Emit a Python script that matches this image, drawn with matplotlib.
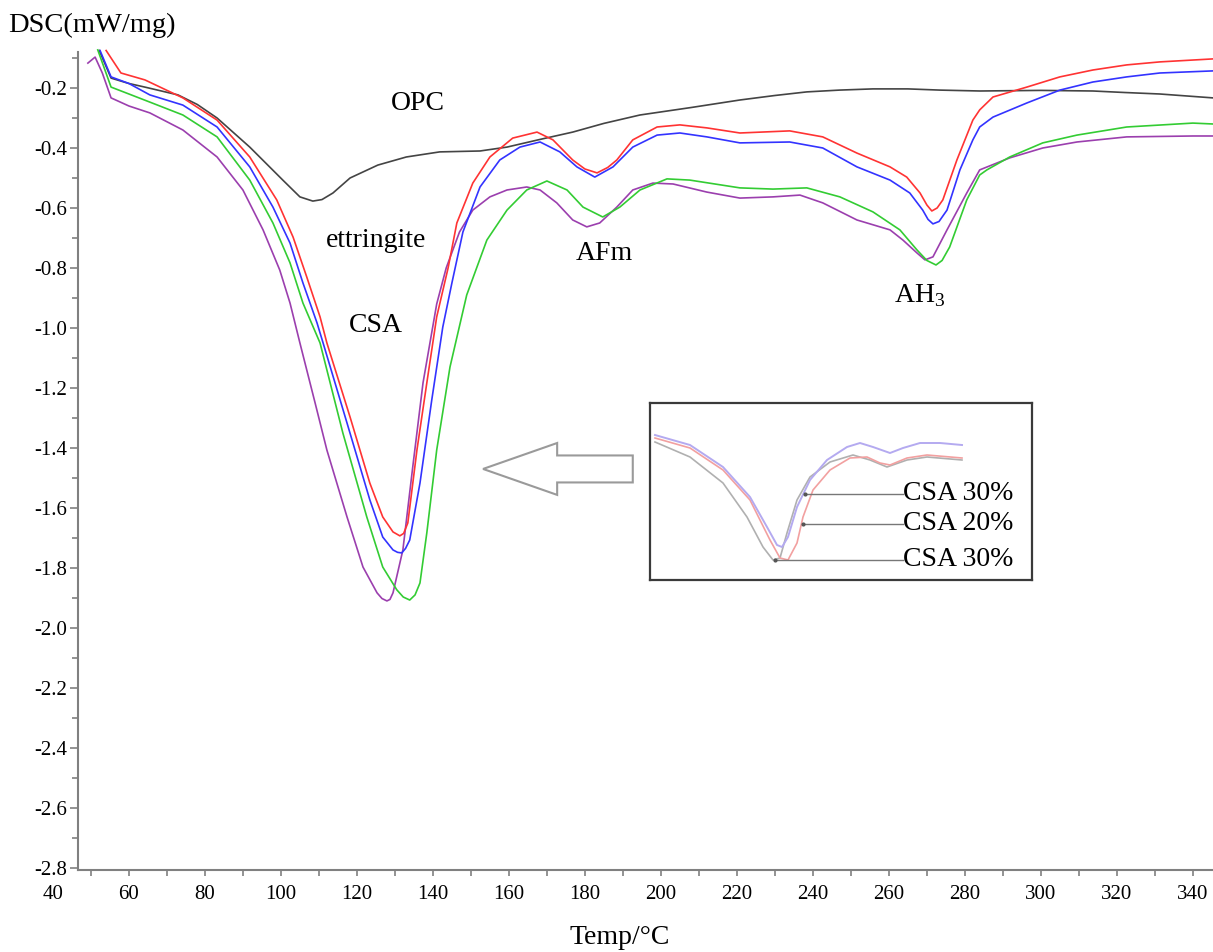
import numpy as np
import matplotlib
matplotlib.use("Agg")
import matplotlib.pyplot as plt
from matplotlib.ticker import MultipleLocator, FormatStrFormatter
from matplotlib.patches import FancyArrow

plt.rcParams["font.family"] = "Liberation Serif"
plt.rcParams["mathtext.fontset"] = "custom"
plt.rcParams["mathtext.rm"] = "Liberation Serif"
plt.rcParams["axes.unicode_minus"] = False

# DSC curves: temperature (deg C) and heat flow (mW/mg)
opc_t = [52.2, 55.3, 60, 64.2, 72.9, 78, 83.2, 91.8, 100.5, 105, 108.4, 110.8, 113.7,
         118.2, 125.5, 133, 141.8, 152.4, 159.5, 168, 176.8, 185, 194.5, 208, 220.8,
         230, 238.4, 247, 255.8, 265, 273.4, 284, 300, 313.7, 322, 331.3, 345.3]
opc_v = [-0.075, -0.167, -0.185, -0.197, -0.223, -0.255, -0.3, -0.397, -0.507, -0.563,
         -0.577, -0.572, -0.55, -0.5, -0.457, -0.43, -0.413, -0.41, -0.397, -0.372,
         -0.347, -0.318, -0.29, -0.265, -0.24, -0.225, -0.213, -0.207, -0.203, -0.203,
         -0.207, -0.21, -0.208, -0.21, -0.215, -0.22, -0.233]

red_t = [54, 57.9, 64.2, 74.2, 83.2, 91.8, 98.9, 103.2, 106.8, 110.3, 112.1, 118.2,
         123.4, 126.8, 129.5, 131.3, 132.3, 133.4, 135.8, 138.4, 141, 144, 146.3, 150.5,
         155, 161, 167.4, 171.6, 176.8, 180, 183.2, 186, 188.4, 192.6, 199, 205, 212.1,
         220.8, 233.9, 242.6, 251.6, 260.3, 264.7, 268.2, 270, 271.3, 272.7, 274.2,
         277.9, 282.1, 283.9, 287.4, 296.3, 305, 313.7, 322.6, 331.3, 345.3]
red_v = [-0.075, -0.15, -0.173, -0.233, -0.307, -0.43, -0.573, -0.697, -0.83, -0.963,
         -1.05, -1.297, -1.517, -1.63, -1.68, -1.693, -1.685, -1.65, -1.407, -1.183,
         -0.963, -0.8, -0.65, -0.517, -0.43, -0.367, -0.347, -0.373, -0.44, -0.47,
         -0.483, -0.465, -0.44, -0.373, -0.33, -0.323, -0.333, -0.35, -0.343, -0.363,
         -0.417, -0.463, -0.497, -0.55, -0.59, -0.61, -0.6, -0.573, -0.44, -0.307,
         -0.273, -0.23, -0.197, -0.163, -0.14, -0.123, -0.113, -0.103]

blue_t = [52.4, 55.3, 60, 65.5, 74.2, 83.2, 91.8, 97.9, 102.4, 105.8, 109.5, 111.1,
          117.4, 123.4, 126.8, 129.5, 130.7, 131.8, 132.8, 133.9, 136.6, 139.7, 142.6,
          145, 147.9, 152.4, 157.6, 162.9, 168.2, 173.4, 177.9, 182.6, 187.4, 192.6,
          199, 205, 212.1, 220.8, 233.9, 242.6, 251.6, 260.3, 265.5, 268.9, 270.3,
          271.6, 273.2, 275.3, 278.7, 282.1, 283.9, 287.4, 296.3, 305, 313.7, 322.6,
          331.3, 345.3]
blue_v = [-0.075, -0.163, -0.185, -0.223, -0.257, -0.33, -0.463, -0.597, -0.717, -0.85,
          -0.983, -1.05, -1.317, -1.573, -1.697, -1.74, -1.748, -1.75, -1.735, -1.707,
          -1.517, -1.24, -0.997, -0.85, -0.68, -0.53, -0.44, -0.397, -0.38, -0.413,
          -0.463, -0.497, -0.463, -0.397, -0.357, -0.35, -0.363, -0.383, -0.38, -0.4,
          -0.463, -0.507, -0.55, -0.607, -0.638, -0.653, -0.645, -0.607, -0.473,
          -0.373, -0.33, -0.297, -0.25, -0.207, -0.18, -0.163, -0.15, -0.143]

green_t = [51.8, 55.3, 60, 65.5, 74.2, 83.2, 91.8, 97.9, 102.4, 105.8, 110.3, 116.3,
           122.6, 126.8, 130.5, 132.2, 133.9, 135.3, 136.6, 138.4, 141, 144.5, 148.9,
           154.2, 159.5, 164.7, 170, 175.3, 179.5, 184.7, 189.2, 194.5, 201.6, 207.6,
           220.8, 229.5, 238.4, 247.1, 255.8, 262.9, 267.4, 270, 272.4, 274, 276,
           280.5, 283.9, 285.8, 291.8, 300.5, 309.5, 322.6, 340, 345.3]
green_v = [-0.073, -0.197, -0.22, -0.247, -0.29, -0.363, -0.507, -0.65, -0.783, -0.917,
           -1.05, -1.35, -1.63, -1.797, -1.873, -1.897, -1.907, -1.89, -1.85, -1.683,
           -1.407, -1.13, -0.89, -0.707, -0.607, -0.54, -0.51, -0.54, -0.597, -0.63,
           -0.597, -0.54, -0.503, -0.507, -0.533, -0.537, -0.533, -0.563, -0.613,
           -0.673, -0.74, -0.775, -0.79, -0.775, -0.73, -0.573, -0.49, -0.473, -0.43,
           -0.383, -0.357, -0.33, -0.317, -0.32]

purple_t = [49.2, 51.1, 53, 55.3, 60, 65.5, 74.2, 83.2, 90, 95.3, 99.7, 102.4, 105,
            109, 112.1, 117.4, 121.6, 125.3, 126.6, 127.9, 128.7, 129.5, 132.1, 134.7,
            137.4, 141, 143.5, 147, 150.5, 155, 159.5, 164.7, 168.2, 172.6, 176.8, 180.5,
            183.9, 188.4, 192.6, 197.9, 203.2, 212.1, 220.8, 229.5, 236.6, 242.6, 251.6,
            260.3, 263.7, 267.4, 269.5, 271.6, 275.3, 280.5, 283.9, 291.8, 300.5, 309.5,
            322.6, 340, 345.3]
purple_v = [-0.117, -0.097, -0.15, -0.233, -0.26, -0.283, -0.34, -0.43, -0.54, -0.673,
            -0.807, -0.917, -1.05, -1.25, -1.407, -1.63, -1.797, -1.883, -1.902, -1.91,
            -1.905, -1.883, -1.74, -1.463, -1.183, -0.92, -0.8, -0.68, -0.607, -0.563,
            -0.54, -0.53, -0.54, -0.583, -0.64, -0.663, -0.65, -0.597, -0.54, -0.517,
            -0.52, -0.547, -0.567, -0.563, -0.557, -0.583, -0.64, -0.673, -0.707, -0.75,
            -0.773, -0.763, -0.673, -0.55, -0.473, -0.433, -0.4, -0.38, -0.363, -0.36,
            -0.36]

# zoomed copy in the inset (inset-local pixel units, y downward)
inset_blue_x = [5, 40, 73, 100, 117, 127, 132, 138, 147, 160, 177, 197, 210, 223, 240,
                253, 270, 290, 312]
inset_blue_y = [32, 42, 64, 94, 124, 142, 144, 134, 104, 77, 57, 44, 40, 44, 50, 45,
                40, 40, 42]
inset_red_x = [5, 40, 73, 100, 120, 130, 138, 147, 153, 163, 180, 200, 217, 230, 240,
               257, 277, 312]
inset_red_y = [35, 45, 67, 97, 137, 155, 157, 140, 114, 87, 67, 55, 54, 60, 62, 55, 52,
               55]
inset_grey_x = [5, 40, 73, 97, 113, 123, 130, 137, 147, 160, 180, 203, 220, 237, 257,
                277, 312]
inset_grey_y = [39, 54, 80, 114, 144, 157, 155, 130, 97, 74, 59, 52, 57, 64, 57, 54, 57]
inset_labels = ["CSA 30%", "CSA 20%", "CSA 30%"]
inset_lead_x0 = [155, 153, 125]
inset_lead_y = [91, 121, 157]

W, H = 1213, 952
fig = plt.figure(figsize=(W / 100, H / 100), dpi=100)
ax = fig.add_axes([78 / W, 82 / H, 1135 / W, 818 / H])

style = dict(lw=1.2, clip_on=False, solid_joinstyle="round")
ax.plot(opc_t, opc_v, color="#444444", **style)
ax.plot(purple_t, purple_v, color="#9b3fae", **style)
ax.plot(green_t, green_v, color="#33cc33", **style)
ax.plot(blue_t, blue_v, color="#3333ff", **style)
ax.plot(red_t, red_v, color="#ff3333", **style)

ax.set_xlim(46.6, 345.3)
ax.set_ylim(-2.807, -0.08)
ax.xaxis.set_major_locator(MultipleLocator(20))
ax.xaxis.set_minor_locator(MultipleLocator(10))
ax.yaxis.set_major_locator(MultipleLocator(0.2))
ax.yaxis.set_minor_locator(MultipleLocator(0.1))
ax.yaxis.set_major_formatter(FormatStrFormatter("%.1f"))
for s in ("top", "right"):
    ax.spines[s].set_visible(False)
for s in ("left", "bottom"):
    ax.spines[s].set_color("#808080")
    ax.spines[s].set_linewidth(1.5)
ax.tick_params(axis="both", which="both", color="#808080", width=1.2, labelsize=15)
ax.tick_params(axis="y", which="major", length=6, pad=1.5)
ax.tick_params(axis="y", which="minor", length=4.5)
ax.tick_params(axis="x", which="both", length=4, pad=7)
# the "40" label sits left of the axis start in the original
ax.annotate("40", xy=(40, 0), xycoords=("data", "axes fraction"), xytext=(0, -11),
            textcoords="offset points", ha="center", va="top", fontsize=15,
            annotation_clip=False)

ax.text(136.1, -0.253, "OPC", fontsize=20, ha="center", va="center")
ax.text(125, -0.707, "ettringite", fontsize=20, ha="center", va="center")
ax.text(125, -0.993, "CSA", fontsize=20, ha="center", va="center")
ax.text(185, -0.753, "AFm", fontsize=20, ha="center", va="center")
ax.text(268.2, -0.893, r"AH$_3$", fontsize=20, ha="center", va="center")

ax.add_patch(FancyArrow(192.6, -1.47, -39.4, 0, width=0.09, head_width=0.173,
                        head_length=19.5, length_includes_head=True,
                        fc="white", ec="#9a9a9a", lw=1.5))

# inset box with the zoomed peak
ins = fig.add_axes([650 / W, (H - 580) / H, 382 / W, 177 / H])
ins.plot(inset_grey_x, inset_grey_y, color="#b0b0b0", lw=1.2)
ins.plot(inset_red_x, inset_red_y, color="#f2a0a0", lw=1.2)
ins.plot(inset_blue_x, inset_blue_y, color="#b4aaf0", lw=1.4)
for x0, y, lab in zip(inset_lead_x0, inset_lead_y, inset_labels):
    ins.plot([x0, 253], [y, y], color="#777777", lw=1.0)
    ins.plot([x0], [y], marker="o", ms=2, color="#555555")
    ins.text(253, y, lab, fontsize=20, ha="left", va="center")
ins.set_xlim(0, 382)
ins.set_ylim(177, 0)
ins.set_xticks([])
ins.set_yticks([])
for s in ins.spines.values():
    s.set_color("#3a3a3a")
    s.set_linewidth(1.6)

fig.text(8 / W, 1 - 25 / H, "DSC(mW/mg)", fontsize=20.5, ha="left", va="center")
fig.text(620 / W, 1 - 937 / H, "Temp/\u00b0C", fontsize=20, ha="center", va="center")

fig.savefig("out.png", dpi=100)
